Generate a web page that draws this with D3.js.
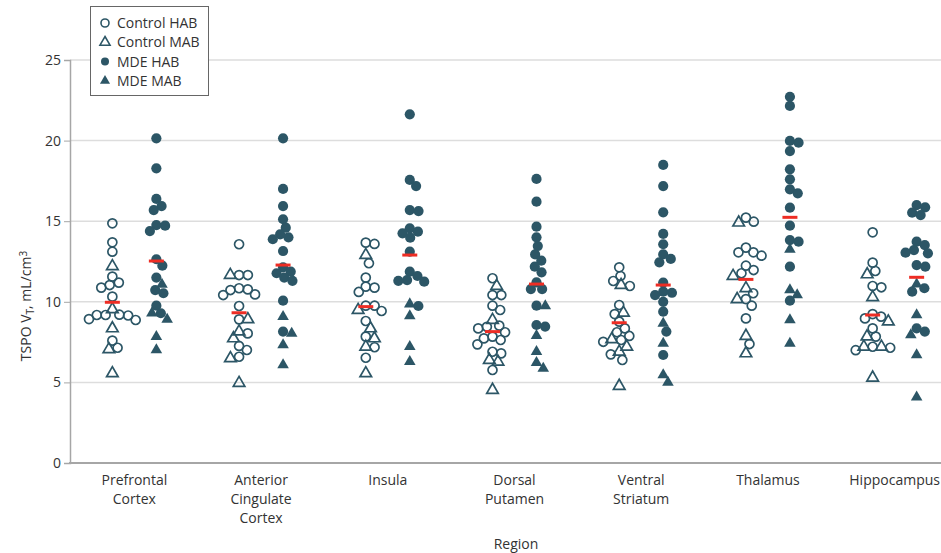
<!DOCTYPE html>
<html>
<head>
<meta charset="utf-8">
<script src="https://cdn.jsdelivr.net/npm/d3@7"></script>
<style>
  body { margin: 0; background: #fff; }
  svg { font-family: "Open Sans", sans-serif; }
</style>
</head>
<body>
<div id="chart"></div>
<script>
// regions and their tick label lines
var regions = ["Prefrontal Cortex", "Anterior Cingulate Cortex", "Insula", "Dorsal Putamen",
               "Ventral Striatum", "Thalamus", "Hippocampus"];
var regionLabels = [["Prefrontal", "Cortex"], ["Anterior", "Cingulate", "Cortex"], ["Insula"],
                    ["Dorsal", "Putamen"], ["Ventral", "Striatum"], ["Thalamus"], ["Hippocampus"]];
var yTicks = [0, 5, 10, 15, 20, 25];

// values per region, one list per region
var controlHAB = [
  [14.87, 13.69, 13.11, 11.56, 11.19, 11.04, 10.88, 10.32, 9.18, 9.18, 9.2, 9.15, 8.87, 8.93, 7.59, 7.15],
  [13.57, 11.66, 11.66, 10.42, 10.73, 10.84, 10.77, 10.46, 9.74, 8.91, 8.04, 7.26, 7.01, 6.59],
  [13.59, 13.67, 12.39, 11.5, 10.94, 10.88, 10.61, 9.76, 9.76, 9.43, 8.81, 7.84, 7.18, 6.53],
  [11.46, 10.42, 10.42, 9.76, 9.49, 8.35, 8.52, 8.45, 8.11, 7.73, 7.84, 7.63, 7.36, 6.9, 6.8, 5.77],
  [12.14, 11.6, 11.29, 10.98, 9.8, 9.24, 8.77, 8.35, 8.11, 7.88, 7.52, 7.63, 6.74, 6.39],
  [15.22, 14.97, 12.86, 13.36, 13.07, 13.07, 12.24, 11.77, 11.97, 10.53, 10.17, 9.76, 8.97, 7.38],
  [14.31, 12.43, 11.91, 10.98, 10.9, 9.24, 8.97, 9.08, 8.35, 7.84, 7.0, 7.15, 7.21]
];
var controlMAB = [
  [12.2, 9.53, 8.35, 7.05, 5.56],
  [11.66, 8.91, 8.15, 7.73, 6.49, 4.96],
  [12.9, 9.49, 8.35, 7.73, 7.21, 5.56],
  [10.98, 8.87, 6.39, 6.28, 4.53],
  [11.04, 9.32, 7.67, 7.21, 6.9, 4.78],
  [14.91, 11.6, 10.84, 10.16, 7.88, 6.8],
  [11.7, 10.28, 8.77, 7.84, 7.21, 7.21, 5.29]
];
var mdeHAB = [
  [20.14, 18.28, 16.38, 15.94, 15.69, 14.76, 14.39, 14.72, 12.64, 12.24, 11.5, 10.73, 10.53, 9.76, 9.29],
  [20.14, 17.0, 15.94, 15.12, 14.6, 14.18, 14.0, 13.88, 13.15, 12.14, 11.87, 11.77, 11.5, 11.3, 10.07, 8.15],
  [21.63, 17.56, 17.18, 15.63, 15.69, 14.56, 14.25, 14.35, 13.98, 13.11, 11.87, 11.6, 11.35, 11.25, 11.3, 9.74],
  [17.62, 16.21, 14.66, 14.0, 13.46, 12.94, 12.55, 12.18, 11.83, 11.21, 10.79, 10.79, 9.76, 8.46, 8.56],
  [18.49, 17.18, 15.55, 14.21, 13.57, 12.94, 12.45, 12.66, 11.19, 10.42, 10.56, 10.63, 10.0, 9.39, 8.15, 6.7],
  [22.72, 22.15, 19.98, 19.87, 19.35, 18.22, 17.6, 16.73, 16.98, 15.84, 14.72, 13.73, 13.83, 12.18, 10.07],
  [16.0, 15.86, 15.53, 15.38, 13.73, 13.52, 13.21, 13.01, 13.05, 12.18, 12.28, 10.63, 10.84, 8.15, 8.35]
];
var mdeMAB = [
  [11.08, 9.29, 8.91, 7.84, 7.01],
  [9.08, 8.04, 7.32, 6.08],
  [9.86, 9.12, 7.21, 6.28],
  [9.74, 7.9, 6.9, 5.87, 6.22],
  [8.66, 7.42, 5.46, 5.0],
  [13.25, 10.42, 10.73, 8.87, 7.42],
  [11.1, 9.18, 7.94, 6.7, 4.08]
];
var controlMedian = [9.97, 9.32, 9.7, 8.15, 8.7, 11.39, 9.18];
var mdeMedian = [12.53, 12.28, 12.9, 11.1, 11.04, 15.24, 11.52];

var width = 941, height = 553;
var ink = "#2c5666", red = "#ee2d24", grid = "#dddddd", axisGray = "#a6a6a6", textColor = "#333";
var r = 5.1, gap = 8.8;

var svg = d3.select("#chart").append("svg")
    .attr("width", width)
    .attr("height", height);

var y = d3.scaleLinear().domain([0, 25]).range([463, 60]);
var x = d3.scaleBand().domain(regions).range([71, 958]);
var side = d3.scalePoint().domain(["Control", "MDE"]).range([-22, 22]);

// gridlines
svg.append("g").selectAll("line")
    .data(yTicks.filter(function(d) { return d > 0; }))
    .enter().append("line")
    .attr("x1", 70).attr("x2", width)
    .attr("y1", function(d) { return y(d); })
    .attr("y2", function(d) { return y(d); })
    .attr("stroke", grid).attr("stroke-width", 1.5);

// y axis
var yAxis = svg.append("g")
    .attr("transform", "translate(70,0)")
    .call(d3.axisLeft(y).tickValues(yTicks).tickSize(6).tickPadding(3));
yAxis.select(".domain").attr("stroke", axisGray).attr("stroke-width", 1.5);
yAxis.selectAll(".tick line").attr("stroke", axisGray);
yAxis.selectAll(".tick text").attr("fill", textColor).style("font-size", "14px")
    .style("font-family", "Open Sans, sans-serif");

// x axis line
svg.append("line")
    .attr("x1", 69).attr("x2", width)
    .attr("y1", y(0)).attr("y2", y(0))
    .attr("stroke", axisGray).attr("stroke-width", 2);

// x tick labels
var xLabels = svg.append("g").selectAll("text")
    .data(regions)
    .enter().append("text")
    .attr("text-anchor", "middle")
    .attr("fill", textColor)
    .style("font-size", "14px")
    .attr("transform", function(d) { return "translate(" + (x(d) + x.bandwidth() / 2) + ",485)"; });
xLabels.selectAll("tspan")
    .data(function(d, i) { return regionLabels[i]; })
    .enter().append("tspan")
    .attr("x", 0)
    .attr("y", function(d, i) { return i * 19; })
    .text(function(d) { return d; });

svg.append("text")
    .attr("x", 516).attr("y", 549)
    .attr("text-anchor", "middle")
    .attr("fill", textColor)
    .style("font-size", "14px")
    .text("Region");

var yTitle = svg.append("text")
    .attr("transform", "translate(31,306) rotate(-90)")
    .attr("text-anchor", "middle")
    .attr("fill", textColor)
    .style("font-size", "14px");
yTitle.append("tspan").text("TSPO V");
yTitle.append("tspan").attr("baseline-shift", "-25%").style("font-size", "10px").text("T");
yTitle.append("tspan").text(", mL/cm");
yTitle.append("tspan").attr("baseline-shift", "40%").style("font-size", "10px").text("3");

// simple beeswarm: place each point at the offset closest to the centre that does not collide
function swarm(points) {
  var placed = [];
  points.sort(function(a, b) { return a.py - b.py; });
  points.forEach(function(p) {
    var cands = [0];
    placed.forEach(function(q) {
      var dy = p.py - q.py;
      if (Math.abs(dy) < gap) {
        var dx = Math.sqrt(gap * gap - dy * dy);
        cands.push(q.dx + dx, q.dx - dx);
      }
    });
    cands.sort(function(a, b) { return Math.abs(a) - Math.abs(b); });
    for (var k = 0; k < cands.length; k++) {
      var c = cands[k];
      var ok = placed.every(function(q) {
        var ddx = c - q.dx, ddy = p.py - q.py;
        return ddx * ddx + ddy * ddy >= gap * gap - 0.01;
      });
      if (ok) { p.dx = c; break; }
    }
    placed.push(p);
  });
  return points;
}

var allPoints = [];
regions.forEach(function(reg, i) {
  var ctrl = [], mde = [];
  controlHAB[i].forEach(function(v) { ctrl.push({region: reg, group: "Control", shape: "circle", filled: false, v: v, py: y(v)}); });
  controlMAB[i].forEach(function(v) { ctrl.push({region: reg, group: "Control", shape: "triangle", filled: false, v: v, py: y(v)}); });
  mdeHAB[i].forEach(function(v) { mde.push({region: reg, group: "MDE", shape: "circle", filled: true, v: v, py: y(v)}); });
  mdeMAB[i].forEach(function(v) { mde.push({region: reg, group: "MDE", shape: "triangle", filled: true, v: v, py: y(v)}); });
  allPoints = allPoints.concat(swarm(ctrl), swarm(mde));
});

var tri = d3.symbol().type(d3.symbolTriangle).size(58);

var marks = svg.append("g").selectAll("path")
    .data(allPoints)
    .enter().append("path")
    .attr("transform", function(d) {
      return "translate(" + (x(d.region) + x.bandwidth() / 2 + side(d.group) + d.dx) + "," + d.py + ")";
    })
    .attr("d", function(d) {
      var rr = d.filled ? r : r - 0.6;
      return d.shape === "circle" ? d3.symbol().type(d3.symbolCircle).size(Math.PI * rr * rr)() : tri();
    })
    .attr("fill", function(d) { return d.filled ? ink : "#fff"; })
    .attr("fill-opacity", function(d) { return d.filled ? 1 : 0; })
    .attr("stroke", ink)
    .attr("stroke-width", function(d) { return d.filled ? 0 : 1.7; });

// median bars
var medians = [];
regions.forEach(function(reg, i) {
  medians.push({region: reg, group: "Control", v: controlMedian[i]});
  medians.push({region: reg, group: "MDE", v: mdeMedian[i]});
});
svg.append("g").selectAll("line")
    .data(medians)
    .enter().append("line")
    .attr("x1", function(d) { return x(d.region) + x.bandwidth() / 2 + side(d.group) - 7.5; })
    .attr("x2", function(d) { return x(d.region) + x.bandwidth() / 2 + side(d.group) + 7.5; })
    .attr("y1", function(d) { return y(d.v); })
    .attr("y2", function(d) { return y(d.v); })
    .attr("stroke", red)
    .attr("stroke-width", 3);

// legend
var legendItems = [
  {label: "Control HAB", shape: "circle", filled: false},
  {label: "Control MAB", shape: "triangle", filled: false},
  {label: "MDE HAB", shape: "circle", filled: true},
  {label: "MDE MAB", shape: "triangle", filled: true}
];
var legend = svg.append("g");
legend.append("rect")
    .attr("x", 90.5).attr("y", 6.5)
    .attr("width", 118).attr("height", 89)
    .attr("fill", "#fff")
    .attr("stroke", "#666").attr("stroke-width", 1);
var li = legend.selectAll("g.item")
    .data(legendItems)
    .enter().append("g")
    .attr("class", "item")
    .attr("transform", function(d, i) { return "translate(105," + (23 + i * 19.3) + ")"; });
li.append("path")
    .attr("d", function(d) {
      return d.shape === "circle" ? d3.symbol().type(d3.symbolCircle).size(Math.PI * 16)()
                                  : d3.symbol().type(d3.symbolTriangle).size(44)();
    })
    .attr("fill", function(d) { return d.filled ? ink : "#fff"; })
    .attr("stroke", ink)
    .attr("stroke-width", function(d) { return d.filled ? 0 : 1.6; });
li.append("text")
    .attr("x", 12).attr("dy", "0.35em")
    .attr("fill", textColor)
    .style("font-size", "14px")
    .text(function(d) { return d.label; });
</script>
</body>
</html>
